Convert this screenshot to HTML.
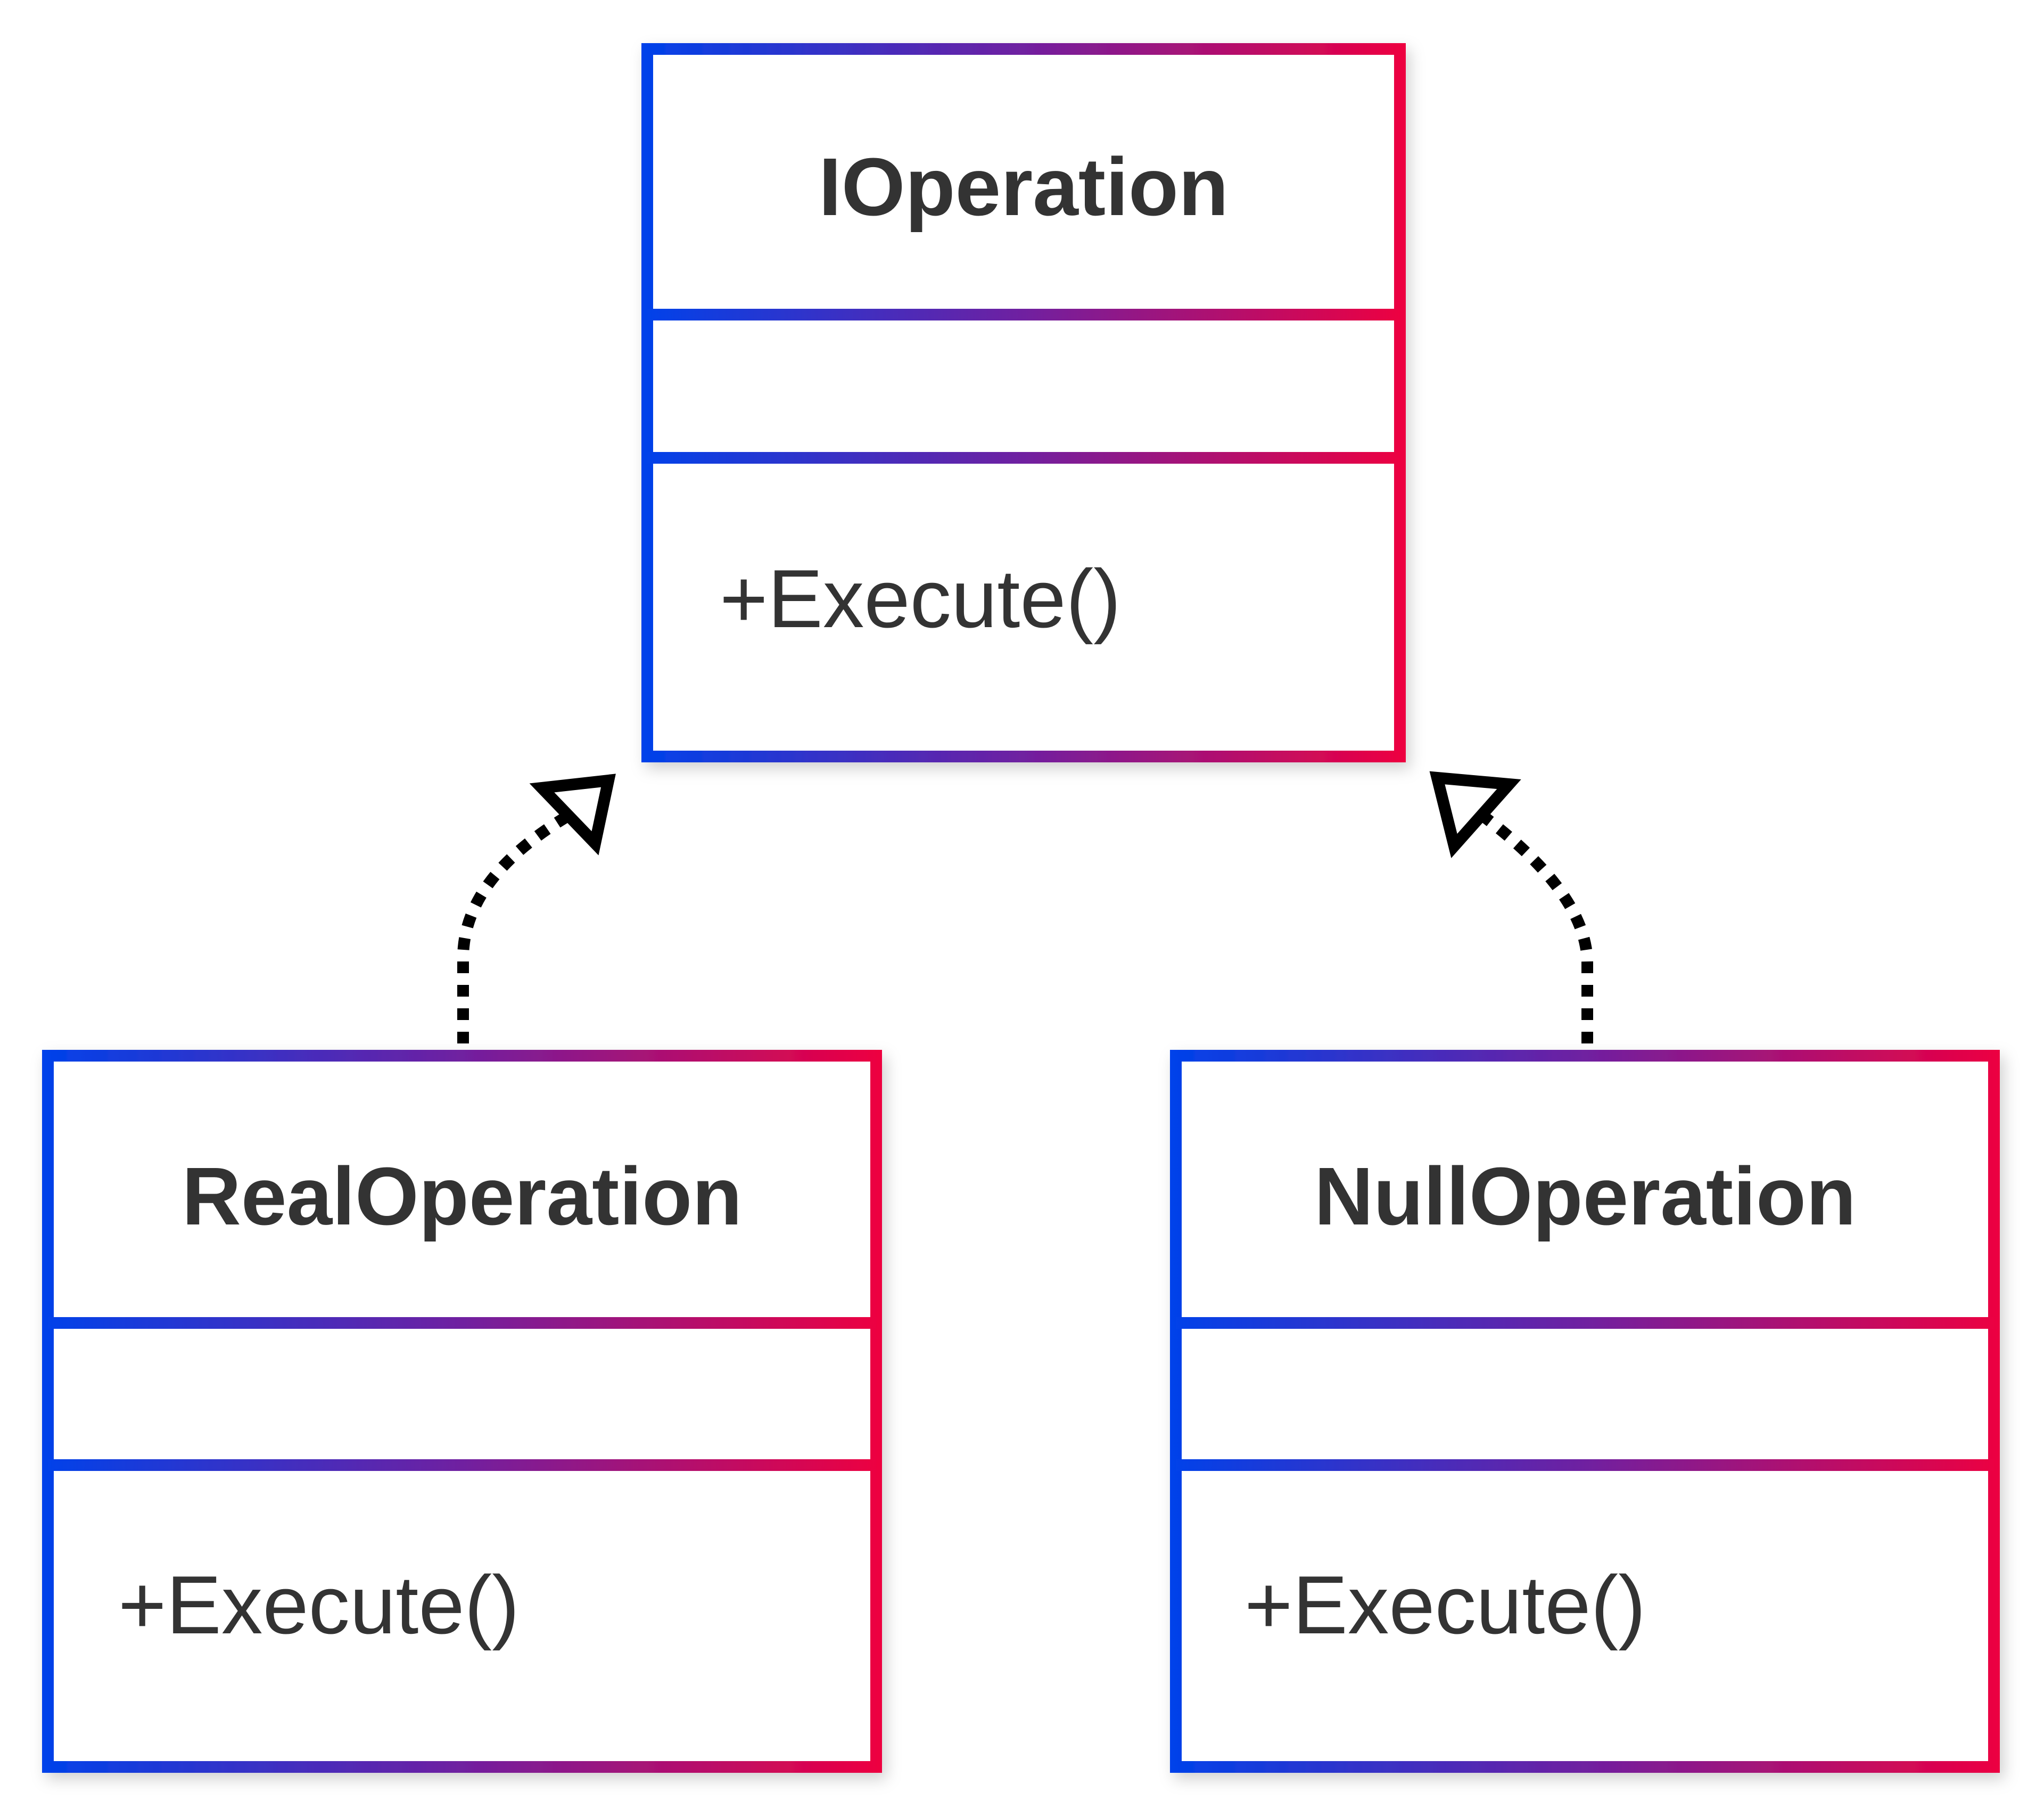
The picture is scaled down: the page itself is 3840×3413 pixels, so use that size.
<!DOCTYPE html>
<html><head><meta charset="utf-8"><style>
html,body{margin:0;padding:0;background:#fff;}
svg{display:block;}
text{font-family:"Liberation Sans",Arial,sans-serif;fill:#333;}
</style></head><body>
<svg width="3840" height="3413" viewBox="0 0 3840 3413" xmlns="http://www.w3.org/2000/svg">
<defs>
<linearGradient id="g1" gradientUnits="userSpaceOnUse" x1="1208" y1="0" x2="2641" y2="0"><stop offset="0" stop-color="#0042ea"/><stop offset="0.5" stop-color="#7020a0"/><stop offset="1" stop-color="#ee0040"/></linearGradient>
<linearGradient id="g2" gradientUnits="userSpaceOnUse" x1="80" y1="0" x2="1657" y2="0"><stop offset="0" stop-color="#0042ea"/><stop offset="0.5" stop-color="#7020a0"/><stop offset="1" stop-color="#ee0040"/></linearGradient>
<linearGradient id="g3" gradientUnits="userSpaceOnUse" x1="2198" y1="0" x2="3766" y2="0"><stop offset="0" stop-color="#0042ea"/><stop offset="0.5" stop-color="#7020a0"/><stop offset="1" stop-color="#ee0040"/></linearGradient>
<filter id="sh" x="-10%" y="-10%" width="120%" height="120%"><feDropShadow dx="8" dy="12" stdDeviation="14" flood-color="#000" flood-opacity="0.18"/></filter>
</defs>

<!-- Top box -->
<g filter="url(#sh)">
<rect x="1216" y="92" width="1414" height="1329" fill="#fff" stroke="url(#g1)" stroke-width="22"/>
</g>
<line x1="1216" y1="591" x2="2630" y2="591" stroke="url(#g1)" stroke-width="22"/>
<line x1="1216" y1="860" x2="2630" y2="860" stroke="url(#g1)" stroke-width="22"/>
<text x="1923" y="404" font-size="154" font-weight="bold" text-anchor="middle">IOperation</text>
<text x="1352" y="1178" font-size="155">+Execute()</text>

<!-- Left box -->
<g filter="url(#sh)">
<rect x="90" y="1983" width="1556" height="1336" fill="#fff" stroke="url(#g2)" stroke-width="22"/>
</g>
<line x1="90" y1="2485" x2="1646" y2="2485" stroke="url(#g2)" stroke-width="22"/>
<line x1="90" y1="2752" x2="1646" y2="2752" stroke="url(#g2)" stroke-width="22"/>
<text x="868" y="2300" font-size="154" font-weight="bold" text-anchor="middle">RealOperation</text>
<text x="222" y="3068" font-size="155">+Execute()</text>

<!-- Right box -->
<g filter="url(#sh)">
<rect x="2209" y="1983" width="1537" height="1336" fill="#fff" stroke="url(#g3)" stroke-width="22"/>
</g>
<line x1="2209" y1="2485" x2="3746" y2="2485" stroke="url(#g3)" stroke-width="22"/>
<line x1="2209" y1="2752" x2="3746" y2="2752" stroke="url(#g3)" stroke-width="22"/>
<text x="2978" y="2300" font-size="154" font-weight="bold" text-anchor="middle">NullOperation</text>
<text x="2338" y="3068" font-size="155">+Execute()</text>

<!-- Connectors -->
<path d="M870 1960 L870 1800 Q870 1650 1068 1532" fill="none" stroke="#000" stroke-width="22" stroke-dasharray="22 22"/>
<polygon points="1143,1466 1018,1480 1118,1584" fill="#fff" stroke="#000" stroke-width="22" stroke-linejoin="miter"/>
<path d="M2982 1960 L2982 1810 Q2982 1680 2784 1531" fill="none" stroke="#000" stroke-width="22" stroke-dasharray="22 22"/>
<polygon points="2700,1461 2835,1473 2732,1589" fill="#fff" stroke="#000" stroke-width="22" stroke-linejoin="miter"/>
</svg>
</body></html>
